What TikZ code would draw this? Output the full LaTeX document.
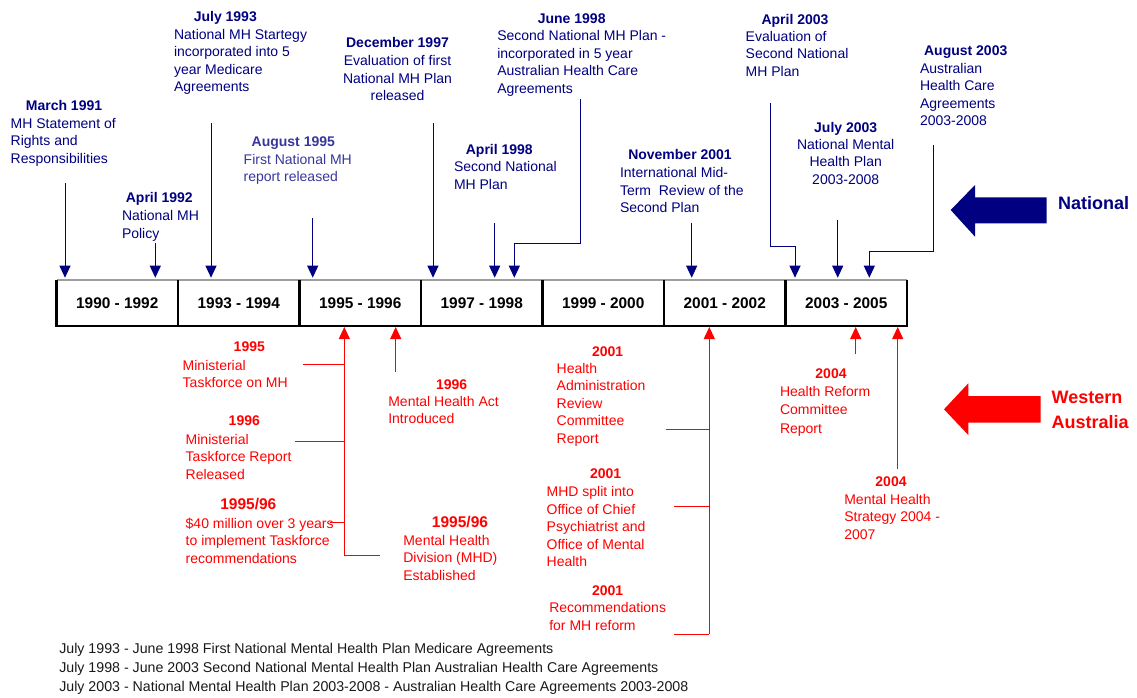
\documentclass[tikz,border=0pt]{standalone}
\usepackage{fontspec}
\setmainfont{Liberation Sans}
\usetikzlibrary{arrows.meta}
\definecolor{navy}{RGB}{0,0,128}
\definecolor{navylt}{RGB}{55,55,155}
\definecolor{wared}{RGB}{255,0,0}
\definecolor{foot}{RGB}{25,25,25}
\begin{document}
\begin{tikzpicture}[x=1pt,y=-1pt,
  every node/.style={inner sep=0pt, outer sep=0pt},
  ndate/.style={font=\fontsize{14}{17.5}\selectfont\bfseries, text=navy, anchor=base},
  nbody/.style={font=\fontsize{14}{17.5}\selectfont, text=navy, anchor=base west, align=left},
  ncent/.style={font=\fontsize{14}{17.5}\selectfont, text=navy, anchor=base, align=center},
  rdate/.style={font=\fontsize{14}{17.5}\selectfont\bfseries, text=wared, anchor=base},
  rdatebig/.style={font=\fontsize{15.5}{17.5}\selectfont\bfseries, text=wared, anchor=base},
  rbody/.style={font=\fontsize{14}{17.5}\selectfont, text=wared, anchor=base west, align=left},
  barr/.style={draw=navy, line width=1pt, -{Triangle[width=11pt,length=12pt]}},
  rarr/.style={draw=wared, line width=1pt, -{Triangle[width=11pt,length=12pt]}},
  rline/.style={draw=wared, line width=1pt},
  cell/.style={minimum width=121.5pt, minimum height=46pt, font=\fontsize{15.4}{18}\selectfont\bfseries, text=black},
  boxline/.style={line width=2.2pt, black},
  footer/.style={font=\fontsize{14.2}{19}\selectfont, text=foot, anchor=base west},
  side/.style={font=\fontsize{18}{25}\selectfont\bfseries, anchor=base west, align=left},
]
\useasboundingbox (0,0) rectangle (1137,697);

% ---------- timeline cells ----------
\node[cell] (c1) at (117.25,303) {1990 - 1992};
\node[cell] (c2) at (238.75,303) {1993 - 1994};
\node[cell] (c3) at (360.25,303) {1995 - 1996};
\node[cell] (c4) at (481.75,303) {1997 - 1998};
\node[cell] (c5) at (603.25,303) {1999 - 2000};
\node[cell] (c6) at (724.75,303) {2001 - 2002};
\node[cell] (c7) at (846.25,303) {2003 - 2005};
\draw[gray!75, line width=1.3pt] (c1.north west) -- (c7.north east);
\draw[boxline] (c1.north west) -- (c1.south west) -- (c7.south east) -- (c7.north east);
\foreach \c in {c1,c2,c3,c4,c5,c6}{\draw[boxline] (\c.north east) -- (\c.south east);}

% ---------- National labels (multi-line nodes anchored at last baseline) ----------
\node[ndate] (d1) at (64,110) {March 1991};
\node[nbody] (b1) at (10.7,163.3) {MH Statement of\\Rights and\\Responsibilities};
\node[ndate] (d2) at (159.3,202.3) {April 1992};
\node[nbody] (b2) at (122,238.2) {National MH\\Policy};
\node[ndate] (d3) at (225.3,21) {July 1993};
\node[nbody] (b3) at (174,91.8) {National MH Startegy\\incorporated into 5\\year Medicare\\Agreements};
\node[ndate, text=navylt] (d4) at (293.3,146.7) {August 1995};
\node[nbody, text=navylt] (b4) at (243.7,181.8) {First National MH\\report released};
\node[ndate] (d5) at (397.5,47.3) {December 1997};
\node[ncent] (b5) at (397.5,100.7) {Evaluation of first\\National MH Plan\\released};
\node[ndate] (d6) at (571.7,23.3) {June 1998};
\node[nbody] (b6) at (497.3,93.2) {Second National MH Plan -\\incorporated in 5 year\\Australian Health Care\\Agreements};
\node[ndate] (d7) at (499.3,154.3) {April 1998};
\node[nbody] (b7) at (454,189.2) {Second National\\MH Plan};
\node[ndate] (d8) at (680,159.3) {November 2001};
\node[nbody] (b8) at (620,212.7) {International Mid-\\Term\ \ Review of the\\Second Plan};
\node[ndate] (d9) at (795,24) {April 2003};
\node[nbody] (b9) at (745.7,76) {Evaluation of\\Second National\\MH Plan};
\node[ndate] (d10) at (845.7,132.3) {July 2003};
\node[ncent] (b10) at (845.7,184.3) {National Mental\\Health Plan\\2003-2008};
\node[ndate] (d11) at (965.7,55) {August 2003};
\node[nbody] (b11) at (920,125.8) {Australian\\Health Care\\Agreements\\2003-2008};

% ---------- National arrows ----------
\coordinate (s1) at (65,183);     \coordinate (t1) at (65,277.7);
\coordinate (s2) at (155.3,243);  \coordinate (t2) at (155.3,277.7);
\coordinate (s3) at (211,123);    \coordinate (t3) at (211,277.7);
\coordinate (s4) at (312.7,218);  \coordinate (t4) at (312.7,277.7);
\coordinate (s5) at (433,123);    \coordinate (t5) at (433,277.7);
\coordinate (s7) at (494.7,222.7);\coordinate (t7) at (494.7,277.7);
\coordinate (s6) at (580,99);     \coordinate (t6) at (514.3,277.7);
\coordinate (s8) at (691.7,222.7);\coordinate (t8) at (691.7,277.7);
\coordinate (s9) at (770,102.7);  \coordinate (t9) at (795,277.7);
\coordinate (s10) at (837.7,220); \coordinate (t10) at (837.7,277.7);
\coordinate (s11) at (933.3,145); \coordinate (t11) at (869.3,277.7);
\draw[barr] (s1) -- (t1);
\draw[barr] (s2) -- (t2);
\draw[barr] (s3) -- (t3);
\draw[barr] (s4) -- (t4);
\draw[barr] (s5) -- (t5);
\draw[barr] (s7) -- (t7);
\draw[barr] (s6) |- (514.3,243) -- (t6);
\draw[barr] (s8) -- (t8);
\draw[barr] (s9) |- (795,246.7) -- (t9);
\draw[barr] (s10) -- (t10);
\draw[barr] (s11) |- (869.3,251.7) -- (t11);

% ---------- big side arrows ----------
\fill[navy] (950.7,210) -- (975,185) -- (975,197.3) -- (1046.7,197.3) -- (1046.7,223.3) -- (975,223.3) -- (975,236.7) -- cycle;
\node[side, text=navy] (nat) at (1058,209.5) {National};
\fill[wared] (944,409.3) -- (968.3,383.3) -- (968.3,396) -- (1040.7,396) -- (1040.7,422.7) -- (968.3,422.7) -- (968.3,435) -- cycle;
\node[side, text=wared] (wa) at (1051.7,428.2) {Western\\Australia};

% ---------- Western Australia labels ----------
\node[rdate] (r1) at (249.3,351.7) {1995};
\node[rbody] (q1) at (182.7,387.5) {Ministerial\\Taskforce on MH};
\node[rdate] (r2) at (244.3,425.7) {1996};
\node[rbody] (q2) at (185.7,479) {Ministerial\\Taskforce Report\\Released};
\node[rdatebig] (r3) at (248.3,509.8) {1995/96};
\node[rbody] (q3) at (185.7,563.3) {\$40 million over 3 years\\to implement Taskforce\\recommendations};
\node[rdate] (r4) at (451.7,389) {1996};
\node[rbody] (q4) at (388.3,423.5) {Mental Health Act\\Introduced};
\node[rdatebig] (r5) at (460,527.8) {1995/96};
\node[rbody] (q5) at (403.3,580) {Mental Health\\Division (MHD)\\Established};
\node[rdate] (r6) at (607.7,356) {2001};
\node[rbody] (q6) at (556.7,443.3) {Health\\Administration\\Review\\Committee\\Report};
\node[rdate] (r7) at (605.7,478.3) {2001};
\node[rbody] (q7) at (546.7,566.7) {MHD split into\\Office of Chief\\Psychiatrist and\\Office of Mental\\Health};
\node[rdate] (r8) at (607.7,595) {2001};
\node[rbody] (q8) at (549.3,630.2) {Recommendations\\for MH reform};
\node[rdate] (r9) at (831,378.3) {2004};
\node[rbody, font=\fontsize{14}{18.6}\selectfont] (q9) at (780,433.2) {Health Reform\\Committee\\Report};
\node[rdate] (r10) at (891,486) {2004};
\node[rbody] (q10) at (844.3,539) {Mental Health\\Strategy 2004 -\\2007};

% ---------- Western Australia connectors ----------
\coordinate (wa1s) at (344.3,555.3); \coordinate (wa1t) at (344.3,327);
\coordinate (wa2s) at (395.7,371.7); \coordinate (wa2t) at (395.7,327);
\coordinate (wa3s) at (709.3,634);   \coordinate (wa3t) at (709.3,327);
\coordinate (wa4s) at (855.7,354);   \coordinate (wa4t) at (855.7,327);
\coordinate (wa5s) at (897.7,469.3); \coordinate (wa5t) at (897.7,327);
\draw[rarr] (wa1s) -- (wa1t);
\draw[rarr] (wa2s) -- (wa2t);
\draw[rarr] (wa3s) -- (wa3t);
\draw[rarr] (wa4s) -- (wa4t);
\draw[rarr] (wa5s) -- (wa5t);
\draw[rline] (302.7,364) -- (344.3,364);
\draw[rline] (295,441) -- (344.3,441);
\draw[rline] (330,522.7) -- (344.3,522.7);
\draw[rline] (wa1s) -- (380,555.3);
\draw[rline] (665.7,429) -- (709.3,429);
\draw[rline] (674.3,506.7) -- (709.3,506.7);
\draw[rline] (674.3,634) -- (wa3s);

% ---------- footer ----------
\node[footer] (f1) at (59.3,653.3) {July 1993 - June 1998 First National Mental Health Plan Medicare Agreements};
\node[footer] (f2) at (59.3,672.3) {July 1998 - June 2003 Second National Mental Health Plan Australian Health Care Agreements};
\node[footer] (f3) at (59.3,691.7) {July 2003 - National Mental Health Plan 2003-2008 - Australian Health Care Agreements 2003-2008};
\end{tikzpicture}
\end{document}
